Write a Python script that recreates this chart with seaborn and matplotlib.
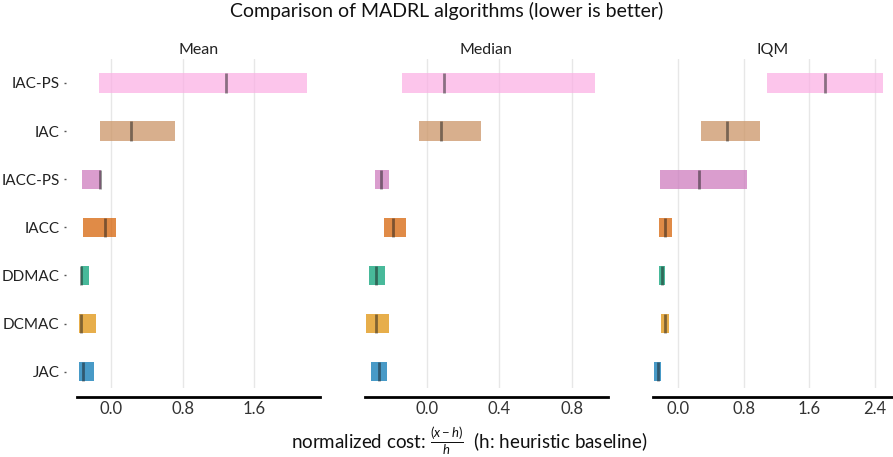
import numpy as np
import matplotlib
matplotlib.use('Agg')
import matplotlib.pyplot as plt
import seaborn as sns

# algorithms, bottom to top
algorithms = ['JAC', 'DCMAC', 'DDMAC', 'IACC', 'IACC-PS', 'IAC', 'IAC-PS']

# point estimates and confidence intervals
mean_point = [-0.316, -0.338, -0.331, -0.067, -0.126, 0.223, 1.287]
mean_low = [-0.354, -0.361, -0.335, -0.313, -0.324, -0.126, -0.134]
mean_high = [-0.193, -0.167, -0.249, 0.059, -0.112, 0.718, 2.19]

median_point = [-0.266, -0.284, -0.283, -0.188, -0.257, 0.078, 0.094]
median_low = [-0.31, -0.338, -0.321, -0.238, -0.29, -0.044, -0.139]
median_high = [-0.222, -0.212, -0.235, -0.116, -0.209, 0.299, 0.931]

iqm_point = [-0.247, -0.162, -0.19, -0.162, 0.26, 0.602, 1.789]
iqm_low = [-0.296, -0.211, -0.235, -0.235, -0.219, 0.277, 1.082]
iqm_high = [-0.202, -0.113, -0.154, -0.073, 0.846, 1.0, 2.496]

metric_names = ['Mean', 'Median', 'IQM']
metric_ticks = [[0.0, 0.8, 1.6], [0.0, 0.4, 0.8], [0.0, 0.8, 1.6, 2.4]]
metric_xlims = [(-0.38, 2.33), (-0.344, 1.0), (-0.305, 2.62)]

sns.set_theme(style='white')
plt.rcParams['font.family'] = ['Lato', 'DejaVu Sans']
plt.rcParams['mathtext.fontset'] = 'custom'
plt.rcParams['mathtext.rm'] = 'Lato'
plt.rcParams['mathtext.it'] = 'Lato:italic'

palette = sns.color_palette('colorblind')
colors = {'JAC': palette[0], 'DCMAC': palette[1], 'DDMAC': palette[2],
          'IACC': palette[3], 'IACC-PS': palette[4], 'IAC': palette[5],
          'IAC-PS': palette[6]}

fig = plt.figure(figsize=(8.93, 4.57), dpi=100)
lefts = [0.0862, 0.4087, 0.7312]
widths = [0.272, 0.272, 0.269]

estimates = [(mean_point, mean_low, mean_high),
             (median_point, median_low, median_high),
             (iqm_point, iqm_low, iqm_high)]

h = 0.4
for idx, name in enumerate(metric_names):
    ax = fig.add_axes([lefts[idx], 0.151, widths[idx], 0.719])
    point, low, high = estimates[idx]
    for j, alg in enumerate(algorithms):
        ax.barh(y=j, width=high[j] - low[j], height=h, left=low[j],
                color=colors[alg], alpha=0.72, linewidth=0)
        ax.vlines(x=point[j], ymin=j - h / 2, ymax=j + h / 2,
                  color='k', alpha=0.5, linewidth=2)
    ax.set_xlim(*metric_xlims[idx])
    ax.set_ylim(-0.34, 6.49)
    ax.set_xticks(metric_ticks[idx])
    ax.set_xticklabels([f'{t:.1f}' for t in metric_ticks[idx]])
    ax.set_yticks(range(len(algorithms)))
    if idx == 0:
        ax.set_yticklabels(algorithms, fontsize=11.5, color='#222222')
    else:
        ax.set_yticklabels([])
        ax.tick_params(axis='y', length=0)
    ax.set_title(name, fontsize=11.5, color='#222222', pad=4)
    ax.tick_params(axis='x', labelsize=12, length=0, pad=3, colors='#333333')
    ax.tick_params(axis='y', length=1.5, width=1, pad=3, colors='#555555',
                   labelcolor='#222222', left=(idx == 0))
    for side in ['top', 'right']:
        ax.spines[side].set_visible(False)
    ax.spines['left'].set_position(('outward', 8))
    ax.spines['left'].set_visible(False)
    ax.spines['bottom'].set_position(('outward', 6.5))
    ax.spines['bottom'].set_linewidth(2)
    ax.spines['bottom'].set_color('black')
    ax.grid(True, axis='x', alpha=0.35, color='#bbbbbb', linewidth=1)
    ax.grid(False, axis='y')

fig.suptitle('Comparison of MADRL algorithms (lower is better)',
             fontsize=14, y=0.995, color='#111111')
fig.text(0.526, 0.037, r'normalized cost: $\frac{(x-h)}{h}$  (h: heuristic baseline)',
         ha='center', va='center', fontsize=13.5, color='#111111')

fig.savefig('out.png', dpi=100)
